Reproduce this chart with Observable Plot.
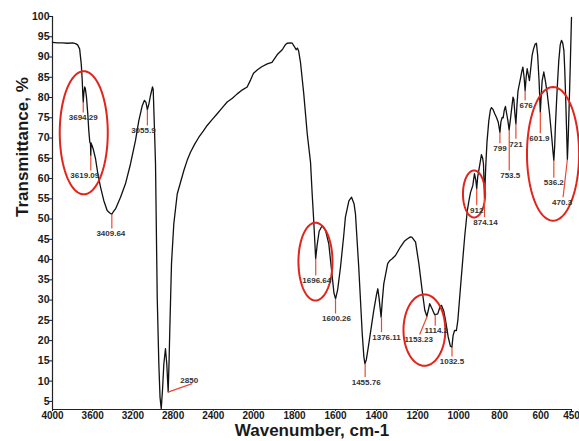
<!DOCTYPE html>
<html><head><meta charset="utf-8">
<script src="https://cdn.jsdelivr.net/npm/d3@7"></script>
<script src="https://cdn.jsdelivr.net/npm/@observablehq/plot@0.6"></script>
<style>
html,body{margin:0;padding:0;background:#fff;}
#chart svg{display:block;}
</style></head><body><div id="chart"></div>
<script>
// Spectrum (wavenumber in cm-1, transmittance in %)
const wavenumber = [4000,3950,3900,3850,3800,3770,3750,3730,3714,3704,3698,3694,3688,3680,3674,3662,3649,3639,3629,3622,3619,3616,3608,3595,3572,3549,3522,3490,3456,3430,3410,3390,3373,3323,3274,3224,3174,3141,3107,3085,3070,3056,3040,3025,3005,2998,2985,2975,2958,2942,2930,2918,2905,2892,2876,2863,2849,2840,2833,2816,2793,2759,2726,2693,2660,2627,2585,2544,2500,2461,2410,2361,2310,2262,2210,2162,2110,2063,2030,2000,1982,1960,1933,1910,1884,1860,1845,1836,1820,1811,1800,1792,1786,1780,1771,1755,1738,1722,1714,1706,1697,1690,1680,1665,1649,1633,1616,1608,1600,1590,1576,1560,1552,1535,1522,1510,1503,1487,1470,1462,1457,1450,1438,1414,1400,1394,1388,1378,1372,1365,1346,1335,1324,1308,1284,1265,1251,1235,1227,1210,1194,1178,1165,1155,1148,1141,1129,1117,1110,1102,1090,1084,1073,1064,1051,1040,1033,1027,1020,1011,1004,991,980,970,958,950,942,931,923,916,912,907,899,889,883,879,874,868,862,853,845,840,832,824,815,807,799,794,788,783,778,772,766,760,754,748,740,735,731,726,721,716,711,707,699,692,687,681,676,671,666,660,655,648,642,635,627,621,615,608,602,598,593,585,577,569,557,546,540,536,532,528,520,512,505,499,493,487,483,478,474,470,466,462,457,450];
const transmittance = [93.6,93.5,93.5,93.4,93.5,93.3,93.0,92.0,88.3,84.2,80.5,78.9,81.2,82.6,82.3,80.1,76.0,71.9,69.0,68.6,65.7,68.8,68.2,67.3,64.9,61.2,57.9,54.6,52.1,51.5,51.2,52.0,52.5,55.4,58.7,63.6,69.4,74.3,78.0,79.3,78.8,77.0,78.5,80.5,82.6,82.0,72.0,63.6,30.7,14.3,6.0,3.2,8.0,14.3,18.0,14.3,7.3,15.0,22.5,39.0,48.8,56.2,59.1,62.0,64.5,66.5,68.5,70.2,71.7,73.1,74.6,76.0,77.5,78.9,79.8,80.9,81.9,82.6,84.3,86.0,86.8,87.6,88.3,88.7,90.6,91.8,93.0,93.4,93.5,93.4,92.5,91.8,92.2,91.5,88.7,80.9,71.0,64.0,56.2,49.2,40.2,43.5,47.0,48.4,47.2,43.9,35.7,31.8,30.3,32.5,38.1,46.0,50.5,54.5,55.4,53.8,51.3,38.1,21.7,16.0,14.3,15.3,19.2,27.4,31.5,32.8,30.5,25.8,30.0,34.0,39.0,39.8,40.2,41.0,43.1,44.5,45.1,45.6,45.5,44.3,39.0,32.4,27.5,26.0,27.5,29.1,27.8,26.4,26.5,26.6,28.5,28.7,27.4,25.0,20.9,18.6,18.4,21.3,22.5,22.5,25.0,33.2,40.0,46.0,52.0,54.5,56.6,58.3,61.2,59.5,57.5,60.5,62.8,65.9,65.0,63.6,55.0,63.0,69.0,74.3,77.0,77.5,77.0,76.0,75.0,73.9,71.4,74.0,75.1,75.0,76.8,77.8,76.0,74.3,72.0,74.5,78.0,80.1,79.5,76.0,73.5,78.0,81.5,82.6,84.6,86.5,87.5,85.0,81.7,85.0,87.1,85.5,84.2,87.5,90.4,92.0,93.2,93.4,90.5,84.0,76.4,80.0,84.2,86.3,84.0,81.3,76.0,70.0,66.5,64.5,68.0,73.5,82.0,89.1,93.0,94.1,93.5,91.6,87.0,79.3,72.0,64.7,70.0,77.0,86.0,99.8];

// Axis ticks
const xTicks = [4000,3600,3200,2800,2400,2000,1800,1600,1400,1200,1000,800,600,450];
const yTicks = [5,10,15,20,25,30,35,40,45,50,55,60,65,70,75,80,85,90,95,100];

// Peak annotations (dip position and end of the red leader line, in data units)
const peakLabels = ["3694.29","3619.09","3409.64","3055.9","2850","1696.64","1600.26","1455.76","1376.11","1153.23","1114.2","1032.5","912","874.14","799","753.5","721","676","601.9","536.2","470.3"];
const peakX = [3694.29,3619.09,3409.64,3055.9,2850,1696.64,1600.26,1455.76,1376.11,1153.23,1114.2,1032.5,912,874.14,799,753.5,721,676,601.9,536.2,470.3];
const peakY = [78.9,65.7,51.2,77.0,7.3,40.2,30.3,14.3,25.8,26.0,26.4,18.4,57.5,55.0,71.4,72.0,73.5,81.7,76.4,64.5,64.7];
const leaderEndX = [3694.29,3619.09,3409.64,3055.9,2610,1696.64,1600.26,1455.76,1376.11,1190,1114.2,1032.5,912,874.14,799,753.5,721,676,601.9,536.2,491];
const leaderEndY = [76.3,62.0,47.7,73.1,9.4,36.1,26.7,11.0,22.1,21.5,23.7,16.1,53.4,50.5,68.7,62.0,69.8,79.3,71.2,60.2,55.4];

// Red highlight ellipses (centre and radii, in data units)
const ellipseCx = [3689,1698,1167,925,540];
const ellipseCy = [71.3,39.5,22.6,56.2,66.1];
const ellipseRx = [239,83,102,54,127];
const ellipseRy = [15.2,9.6,8.8,5.8,16.5];

// Layout-only: horizontal nudges of peak labels (px)
const labelDx = [0,-6,-1,-4,-3,1,1,1,5,-1,1,0,0,1,0,1,0,1,-1,0,-1];

const spectrum = wavenumber.map((w, i) => ({w, t: transmittance[i]}));
const peaks = peakLabels.map((label, i) => ({label, x1: peakX[i], y1: peakY[i], x2: leaderEndX[i], y2: leaderEndY[i], dx: labelDx[i]}));
const ellipsePts = [];
ellipseCx.forEach((cx, k) => {
  for (let j = 0; j < 96; j++) {
    const a = (j / 96) * 2 * Math.PI;
    ellipsePts.push({id: k, x: cx + ellipseRx[k] * Math.cos(a), y: ellipseCy[k] + ellipseRy[k] * Math.sin(a)});
  }
});

const labelMarks = peaks.map(p => Plot.text([p], {
  x: "x2", y: "y2", text: "label",
  lineAnchor: p.label === "2850" ? "bottom" : "top",
  dy: p.label === "2850" ? -1 : 2,
  dx: p.dx, fontSize: 8, fill: "#333"
}));

const chart = Plot.plot({
  width: 579, height: 441,
  marginLeft: 52, marginRight: 8, marginTop: 16, marginBottom: 32,
  style: {fontFamily: "'Liberation Sans', Arial, sans-serif", fontWeight: "bold", fontSize: "10.5px", background: "#fff", color: "#1a1a1a"},
  x: {type: "linear", domain: [4000, 2000, 450], range: [52, 253, 571]},
  y: {domain: [3, 100]},
  marks: [
    Plot.axisX({ticks: xTicks, tickFormat: d3.format("d"), tickSize: 2, tickPadding: 0, label: null, fontSize: 10}),
    Plot.axisY({ticks: yTicks, tickSize: 3, tickPadding: 0, label: null, fontSize: 10.5}),
    Plot.ruleX([4000], {stroke: "#222", strokeWidth: 1.2}),
    Plot.ruleY([3], {stroke: "#222", strokeWidth: 1.2}),
    Plot.line(spectrum, {x: "w", y: "t", stroke: "#111", strokeWidth: 1.3}),
    Plot.line(ellipsePts, {x: "x", y: "y", z: "id", curve: "linear-closed", stroke: "#e0251c", strokeWidth: 2}),
    Plot.link(peaks, {x1: "x1", y1: "y1", x2: "x2", y2: "y2", stroke: "#ea4a2e", strokeWidth: 1.2}),
    ...labelMarks,
    Plot.text(["Wavenumber, cm-1"], {frameAnchor: "bottom", dy: 26, fontSize: 17, fill: "#1a1a1a"}),
    Plot.text(["Transmittance, %"], {frameAnchor: "left", rotate: -90, dx: -30, dy: 4, fontSize: 17, fill: "#1a1a1a"})
  ]
});
document.getElementById("chart").appendChild(chart);
</script>
</body></html>
